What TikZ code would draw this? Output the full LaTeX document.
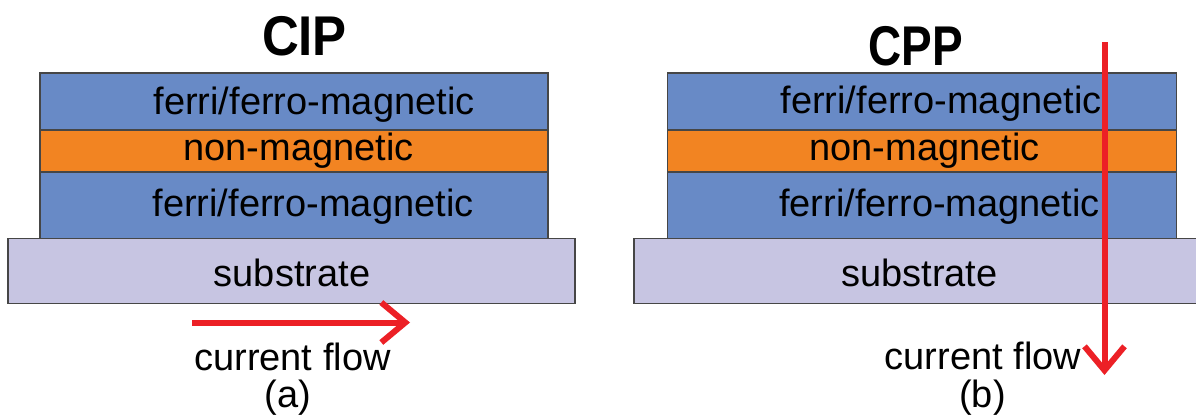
\documentclass[tikz,border=0pt]{standalone}
\usepackage{fontspec}
\setmainfont{Liberation Sans}
\usetikzlibrary{arrows.meta}
\definecolor{fmblue}{RGB}{104,138,198}
\definecolor{nmorange}{RGB}{242,132,34}
\definecolor{sublav}{RGB}{199,197,226}
\definecolor{flowred}{RGB}{236,32,38}
\definecolor{edgegray}{RGB}{70,70,70}
\tikzset{
  layer/.style={draw=edgegray, line width=1.3pt, inner sep=0pt, outer sep=0pt},
  lbl/.style={anchor=base, inner sep=0pt, font=\fontsize{38}{40}\selectfont},
  ttl/.style={anchor=base, inner sep=0pt, font=\fontsize{56}{58}\selectfont\bfseries},
  flow/.style={draw=flowred, line width=6pt, -{Straight Barb[length=24pt,width=40pt]}}
}
\begin{document}
\begin{tikzpicture}[x=1pt,y=-1pt]
\useasboundingbox (0,0) rectangle (1196,415);
% ---- left panel (CIP)
\node[ttl, xscale=0.91] (tL) at (304.5,55) {CIP};
\node[layer, fill=fmblue, minimum width=508pt, minimum height=57pt] (Ltop) at (294,101.5) {};
\node[layer, fill=nmorange, minimum width=508pt, minimum height=42pt] (Lmid) at (294,151) {};
\node[layer, fill=fmblue, minimum width=508pt, minimum height=66pt] (Lbot) at (294,205.5) {};
\node[layer, fill=sublav, minimum width=567pt, minimum height=65pt] (Lsub) at (291.5,271) {};
\node[lbl] (Ltopt) at (314,114) {ferri/ferro-magnetic};
\node[lbl] (Lmidt) at (298.5,160.5) {non-magnetic};
\node[lbl] (Lbott) at (313,216.7) {ferri/ferro-magnetic};
\node[lbl] (Lsubt) at (292,286) {substrate};
\coordinate (La) at (192,322.5);
\coordinate (Lb) at (410,322.5);
\draw[flow] (La) -- (Lb);
\node[lbl] (Lcf) at (292.5,370) {current flow};
\node[lbl] (Lcap) at (288,407) {(a)};
% ---- right panel (CPP)
\node[ttl, xscale=0.82] (tR) at (916,65) {CPP};
\node[layer, fill=fmblue, minimum width=509pt, minimum height=57pt] (Rtop) at (922,101.5) {};
\node[layer, fill=nmorange, minimum width=509pt, minimum height=42pt] (Rmid) at (922,151) {};
\node[layer, fill=fmblue, minimum width=509pt, minimum height=66pt] (Rbot) at (922,205.5) {};
\node[layer, fill=sublav, minimum width=570pt, minimum height=65pt] (Rsub) at (919,271) {};
\node[lbl] (Rtopt) at (941,113.5) {ferri/ferro-magnetic};
\node[lbl] (Rmidt) at (924.7,160.5) {non-magnetic};
\node[lbl] (Rbott) at (939.5,216.7) {ferri/ferro-magnetic};
\node[lbl] (Rsubt) at (919.5,286) {substrate};
\coordinate (Ra) at (1104.5,42);
\coordinate (Rb) at (1104.5,375);
\draw[flow] (Ra) -- (Rb);
\node[lbl] (Rcf) at (983,369) {current flow};
\node[lbl] (Rcap) at (982.5,407) {(b)};
\end{tikzpicture}
\end{document}
